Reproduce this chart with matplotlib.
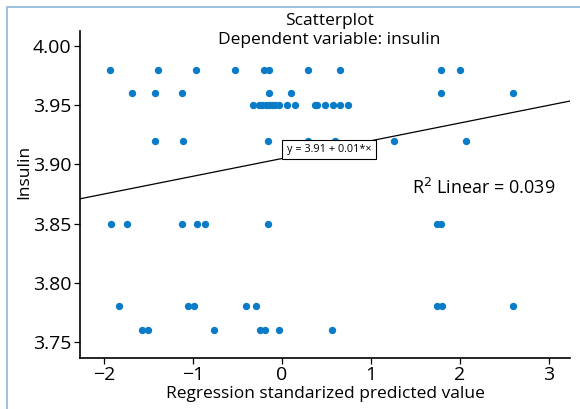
import matplotlib
matplotlib.use("Agg")
import matplotlib.pyplot as plt
from matplotlib.patches import Rectangle

plt.rcParams['font.family'] = ['Open Sans', 'DejaVu Sans']

# insulin levels and standardized predicted values
x_398 = [-1.93, -1.39, -0.97, -0.53, -0.20, -0.15, 0.29, 0.65, 1.79, 2.00]
x_396 = [-1.69, -1.43, -1.12, -0.15, 0.10, 1.79, 2.60]
x_395 = [-0.33, -0.26, -0.22, -0.18, -0.15, -0.11, -0.08, -0.03, 0.06, 0.15,
         0.37, 0.39, 0.48, 0.57, 0.65, 0.74]
x_392 = [-1.43, -1.11, -0.16, 0.29, 0.60, 1.26, 2.07]
x_385 = [-1.92, -1.74, -1.12, -0.96, -0.87, -0.16, 1.74, 1.79]
x_378 = [-1.83, -1.06, -0.99, -0.40, -0.29, 1.74, 1.80, 2.60]
x_376 = [-1.57, -1.51, -0.76, -0.25, -0.19, -0.03, 0.56]

groups = [(3.98, x_398), (3.96, x_396), (3.95, x_395), (3.92, x_392),
          (3.85, x_385), (3.78, x_378), (3.76, x_376)]

intercept = 3.905
slope = 0.015

fig = plt.figure(figsize=(5.8, 4.09), dpi=100)
ax = fig.add_axes([0.138, 0.125, 0.845, 0.799])

for yv, xs in groups:
    ax.scatter(xs, [yv] * len(xs), s=28, color='#0a7bc6', linewidths=0, zorder=3)

xlim = (-2.27, 3.24)
ax.plot(xlim, [intercept + slope * v for v in xlim], color='black', lw=0.9, zorder=2)

ax.set_xlim(*xlim)
ax.set_ylim(3.7365, 4.0127)
ax.set_xticks([-2, -1, 0, 1, 2, 3])
ax.set_yticks([3.75, 3.80, 3.85, 3.90, 3.95, 4.00])
ax.set_yticklabels(['3.75', '3.80', '3.85', '3.90', '3.95', '4.00'])
ax.set_xticklabels(['\u22122', '\u22121', '0', '1', '2', '3'])
ax.tick_params(labelsize=14, length=4, width=0.9, direction='out', pad=2)
for s in ['top', 'right']:
    ax.spines[s].set_visible(False)
for s in ['left', 'bottom']:
    ax.spines[s].set_linewidth(1.2)

ax.set_xlabel('Regression standarized predicted value', fontsize=12.5, labelpad=1)
ax.set_ylabel('Insulin', fontsize=12.5, labelpad=0)
ax.yaxis.set_label_coords(-0.097, 0.57)

ax.text(0.53, 3.9127, 'y = 3.91 + 0.01*\u00d7', fontsize=7.8, ha='center', va='center',
        bbox=dict(boxstyle='square,pad=0.4', fc='white', ec='black', lw=0.8), zorder=4)
ax.text(3.08, 3.8805, 'R$^2$ Linear = 0.039', fontsize=13, ha='right', va='center')

fig.text(0.568, 0.925, 'Scatterplot\nDependent variable: insulin', fontsize=12.5,
         ha='center', va='center', linespacing=1.2)

fig.patches.append(Rectangle((0.012, -0.01), 1.2, 0.992, transform=fig.transFigure,
                             fill=False, ec='#8db6d9', lw=1.2))

fig.savefig('out.png', dpi=100)
